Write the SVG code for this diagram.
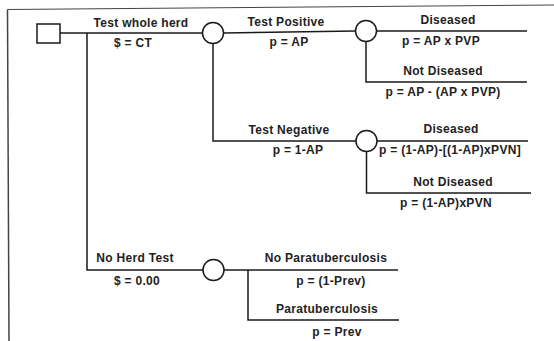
<svg xmlns="http://www.w3.org/2000/svg" width="554" height="341" viewBox="0 0 554 341">
<style>
.frame{stroke:#444;stroke-width:1;fill:none}
.edge{stroke:#1a1a1a;stroke-width:1.5;fill:none}
.node{stroke:#1a1a1a;stroke-width:1.5;fill:#fff}
text{font-family:"Liberation Sans",Arial,sans-serif;font-size:12px;font-weight:bold;fill:#222;text-anchor:middle;letter-spacing:0.3px}
</style>
<rect width="554" height="341" fill="#fff"/>
<g id="frame">
<path class="frame" d="M7.5,9.5 L554,5"/>
<path class="frame" d="M7.5,9.5 L9,341" style="stroke-width:1.5"/>
</g>
<g id="connectors">
<path class="edge" d="M60,33 H202.5"/>
<path class="edge" d="M87,33 V270 H203"/>
<path class="edge" d="M223.5,33 L355.5,31"/>
<path class="edge" d="M213,43.5 V141 H356"/>
<path class="edge" d="M376.5,31 H527"/>
<path class="edge" d="M366,41.5 V82 H527"/>
<path class="edge" d="M377,141 H528"/>
<path class="edge" d="M366.5,151.5 V193 H531"/>
<path class="edge" d="M224,270 H398"/>
<path class="edge" d="M248,270 V320 H399"/>
</g>
<g id="decision"><rect class="node" x="37" y="24" width="23" height="19"/></g>
<g id="chance1"><circle class="node" cx="213" cy="33" r="10.5"/></g>
<g id="chance2"><circle class="node" cx="366" cy="31" r="10.5"/></g>
<g id="chance3"><circle class="node" cx="366.5" cy="141" r="10.5"/></g>
<g id="chance4"><circle class="node" cx="213.5" cy="270" r="10.5"/></g>
<g id="labels">
<text x="141" y="27">Test whole herd</text>
<text x="133" y="47">$ = CT</text>
<text x="286" y="26">Test Positive</text>
<text x="289" y="46">p = AP</text>
<text x="448" y="24">Diseased</text>
<text x="441" y="45">p = AP x PVP</text>
<text x="443" y="75">Not Diseased</text>
<text x="443" y="96">p = AP - (AP x PVP)</text>
<text x="289" y="134">Test Negative</text>
<text x="298" y="154">p = 1-AP</text>
<text x="451" y="133">Diseased</text>
<text x="450" y="154">p = (1-AP)-[(1-AP)xPVN]</text>
<text x="453" y="186">Not Diseased</text>
<text x="446" y="207">p = (1-AP)xPVN</text>
<text x="135" y="262">No Herd Test</text>
<text x="137" y="285">$ = 0.00</text>
<text x="326" y="262">No Paratuberculosis</text>
<text x="331" y="285">p = (1-Prev)</text>
<text x="327" y="313">Paratuberculosis</text>
<text x="337" y="336">p = Prev</text>
</g>
</svg>
